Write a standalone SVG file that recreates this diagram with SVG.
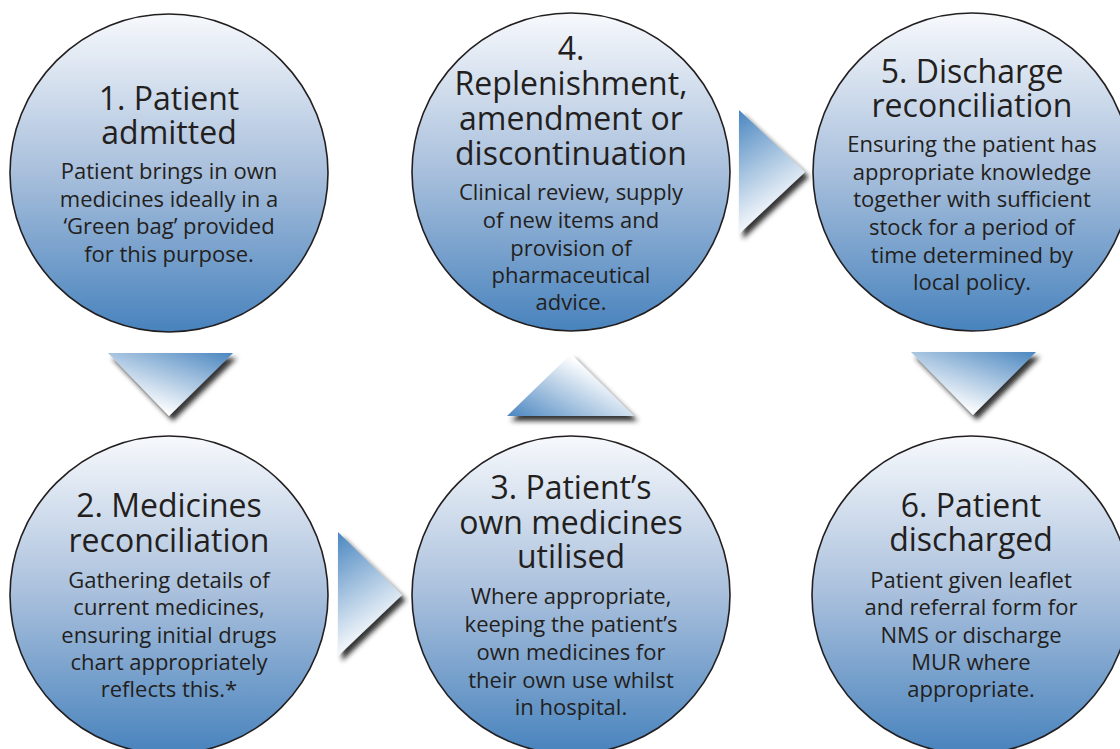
<svg xmlns="http://www.w3.org/2000/svg" width="1120" height="749" viewBox="0 0 1120 749">
<defs>
<linearGradient id="gCircle" x1="0" y1="0" x2="0" y2="1">
<stop offset="0" stop-color="#f7f9fc"/>
<stop offset="0.5" stop-color="#a8bfdc"/>
<stop offset="1" stop-color="#4883bd"/>
</linearGradient>
<linearGradient id="gDown" x1="0.3" y1="1" x2="1" y2="0">
<stop offset="0.1" stop-color="#ffffff"/>
<stop offset="1" stop-color="#4a86c0"/>
</linearGradient>
<linearGradient id="gUp" x1="0" y1="1" x2="0.8" y2="0.3">
<stop offset="0" stop-color="#4a86c0"/>
<stop offset="0.95" stop-color="#ffffff"/>
</linearGradient>
<linearGradient id="gRight" x1="0" y1="0" x2="0.35" y2="1">
<stop offset="0" stop-color="#4a86c0"/>
<stop offset="0.95" stop-color="#ffffff"/>
</linearGradient>
<filter id="shadow" x="-20%" y="-20%" width="150%" height="160%">
<feDropShadow dx="4" dy="5" stdDeviation="2.5" flood-color="#1a1a1a" flood-opacity="0.9"/>
</filter>
<style>
.circ { fill: url(#gCircle); stroke: #231f20; stroke-width: 1.6; }
.t { font-family: "Open Sans", "Noto Sans", "Liberation Sans", sans-serif; fill: #231f20; text-anchor: middle; }
.title { font-size: 32px; }
.body { font-size: 22px; }
.arrow { filter: url(#shadow); }
</style>
</defs>

<g id="connectors">
<polygon class="arrow" points="108,353 233,353 169,416" fill="url(#gDown)"/>
<polygon class="arrow" points="338,532 402,595 338,656" fill="url(#gRight)"/>
<polygon class="arrow" points="571,354 634,416 507,416" fill="url(#gUp)"/>
<polygon class="arrow" points="739,110 805,172 739,234" fill="url(#gRight)"/>
<polygon class="arrow" points="911,352 1036,352 973,415" fill="url(#gDown)"/>
</g>

<g id="node1">
<circle class="circ" cx="169" cy="173" r="159"/>
<text class="t"><tspan class="title" x="169" y="110">1. Patient</tspan><tspan class="title" x="169" y="144">admitted</tspan><tspan class="body" x="169" y="179">Patient brings in own</tspan><tspan class="body" x="169" y="206.5">medicines ideally in a</tspan><tspan class="body" x="169" y="234">‘Green bag’ provided</tspan><tspan class="body" x="169" y="261.5">for this purpose.</tspan></text>
</g>

<g id="node2">
<circle class="circ" cx="169" cy="595" r="159"/>
<text class="t"><tspan class="title" x="169" y="517">2. Medicines</tspan><tspan class="title" x="169" y="552">reconciliation</tspan><tspan class="body" x="169" y="588">Gathering details of</tspan><tspan class="body" x="169" y="615">current medicines,</tspan><tspan class="body" x="169" y="642.5">ensuring initial drugs</tspan><tspan class="body" x="169" y="669.5">chart appropriately</tspan><tspan class="body" x="169" y="697">reflects this.*</tspan></text>
</g>

<g id="node3">
<circle class="circ" cx="571" cy="595" r="159"/>
<text class="t"><tspan class="title" x="571" y="499">3. Patient’s</tspan><tspan class="title" x="571" y="534">own medicines</tspan><tspan class="title" x="571" y="568">utilised</tspan><tspan class="body" x="571" y="604">Where appropriate,</tspan><tspan class="body" x="571" y="632">keeping the patient’s</tspan><tspan class="body" x="571" y="659.5">own medicines for</tspan><tspan class="body" x="571" y="687.5">their own use whilst</tspan><tspan class="body" x="571" y="715">in hospital.</tspan></text>
</g>

<g id="node4">
<circle class="circ" cx="571" cy="172" r="159"/>
<text class="t"><tspan class="title" x="571" y="60">4.</tspan><tspan class="title" x="571" y="95">Replenishment,</tspan><tspan class="title" x="571" y="130">amendment or</tspan><tspan class="title" x="571" y="165">discontinuation</tspan><tspan class="body" x="571" y="200">Clinical review, supply</tspan><tspan class="body" x="571" y="228">of new items and</tspan><tspan class="body" x="571" y="255.5">provision of</tspan><tspan class="body" x="571" y="283">pharmaceutical</tspan><tspan class="body" x="571" y="310">advice.</tspan></text>
</g>

<g id="node5">
<circle class="circ" cx="972" cy="172" r="159"/>
<text class="t"><tspan class="title" x="972" y="83">5. Discharge</tspan><tspan class="title" x="972" y="117">reconciliation</tspan><tspan class="body" x="972" y="152">Ensuring the patient has</tspan><tspan class="body" x="972" y="179.5">appropriate knowledge</tspan><tspan class="body" x="972" y="207">together with sufficient</tspan><tspan class="body" x="972" y="235">stock for a period of</tspan><tspan class="body" x="972" y="262.5">time determined by</tspan><tspan class="body" x="972" y="290">local policy.</tspan></text>
</g>

<g id="node6">
<circle class="circ" cx="971" cy="595" r="159"/>
<text class="t"><tspan class="title" x="971" y="517">6. Patient</tspan><tspan class="title" x="971" y="551">discharged</tspan><tspan class="body" x="971" y="588">Patient given leaflet</tspan><tspan class="body" x="971" y="615">and referral form for</tspan><tspan class="body" x="971" y="643">NMS or discharge</tspan><tspan class="body" x="971" y="670">MUR where</tspan><tspan class="body" x="971" y="697">appropriate.</tspan></text>
</g>
</svg>
